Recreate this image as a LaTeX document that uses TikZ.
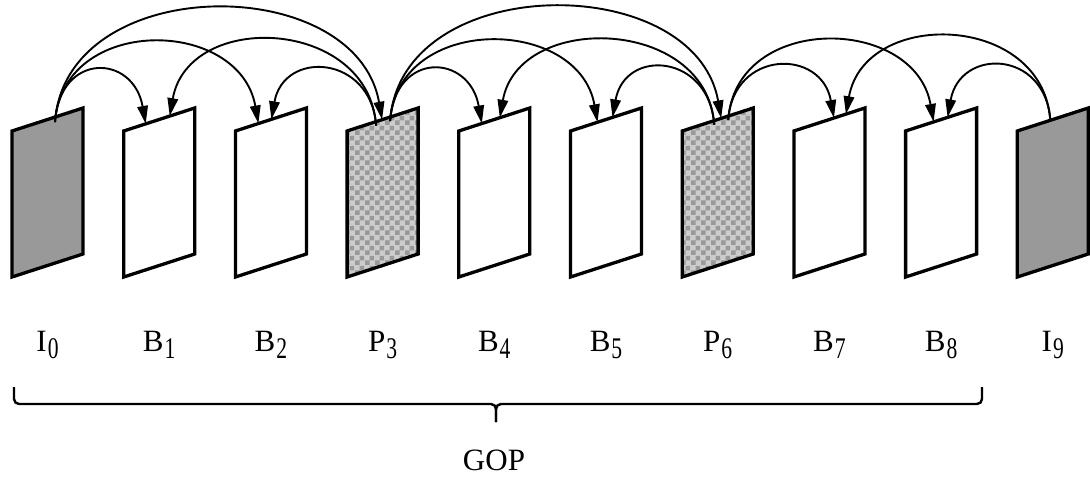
\documentclass[tikz,border=0pt]{standalone}
\usepackage{fontspec}
\setmainfont{Liberation Serif}
\usepackage{graphicx}
\usetikzlibrary{arrows.meta,patterns,calc}

\pgfdeclarepatternformonly{checker}{\pgfpointorigin}{\pgfqpoint{9.6pt}{9.6pt}}{\pgfqpoint{9.6pt}{9.6pt}}{
	\pgfpathrectangle{\pgfpointorigin}{\pgfqpoint{4.8pt}{4.8pt}}
	\pgfpathrectangle{\pgfqpoint{4.8pt}{4.8pt}}{\pgfqpoint{4.8pt}{4.8pt}}
	\pgfusepath{fill}}

\newcommand{\frmlabel}[2]{#1\hspace{1pt}\raisebox{-7pt}{\scalebox{0.72}[1]{\fontsize{30}{30}\selectfont #2}}}

\begin{document}
\begin{tikzpicture}[x=1pt, y=1pt, every node/.style={font=\fontsize{31}{32}\selectfont, inner sep=0pt},
	frame/.style={line width=3.3pt},
	I frame/.style={frame, fill=black!40},
	B frame/.style={frame, fill=white},
	P frame/.style={frame, preaction={fill=black!20}, pattern=checker, pattern color=black!40},
	ref/.style={line width=1.9pt, -{Triangle[length=18pt,width=10.5pt]}},
	fwd/.style={out=86, in=100},
	back/.style={out=94, in=80}]
	\useasboundingbox (0,0) rectangle (1090,477);
	% frames and labels
	\foreach \i/\k in {0/I,1/B,2/B,3/P,4/B,5/B,6/P,7/B,8/B,9/I} {
		\begin{scope}[shift={(12+111.7*\i,200)}, yslant=0.324]
			\draw[\k\space frame] (0,0) -- (0,146) -- (71,146) -- (71,0) -- cycle;
			\coordinate (top\i) at (0,146);
		\end{scope}
		\node[anchor=base] (lab\i) at (47.5+111.7*\i,125) {\frmlabel{\k}{\i}};
	}
	% ends of the references on the top edges
	\coordinate (I0 out) at ($(top0)+(43,8.9)$);
	\coordinate (B1 inI) at ($(top1)+(22,7.1)$);
	\coordinate (B1 inP) at ($(top1)+(46,14.9)$);
	\coordinate (B2 inI) at ($(top2)+(23,7.5)$);
	\coordinate (B2 inP) at ($(top2)+(36,11.7)$);
	\coordinate (P3 in) at ($(top3)+(35,11.3)$);
	\coordinate (P3 back) at ($(top3)+(29,5.4)$);
	\coordinate (P3 fwd) at ($(top3)+(43,9.9)$);
	\coordinate (B4 inP) at ($(top4)+(23,7.5)$);
	\coordinate (B4 inQ) at ($(top4)+(41,13.3)$);
	\coordinate (B5 inP) at ($(top5)+(27,8.7)$);
	\coordinate (B5 inQ) at ($(top5)+(42,13.6)$);
	\coordinate (P6 in) at ($(top6)+(39,12.6)$);
	\coordinate (P6 back) at ($(top6)+(32,6.4)$);
	\coordinate (P6 fwd) at ($(top6)+(46,10.9)$);
	\coordinate (B7 inP) at ($(top7)+(40,13.0)$);
	\coordinate (B7 inI) at ($(top7)+(52,16.8)$);
	\coordinate (B8 inP) at ($(top8)+(28,9.1)$);
	\coordinate (B8 inI) at ($(top8)+(42,13.6)$);
	\coordinate (I9 out) at ($(top9)+(33,10.7)$);
	% references
	\draw[ref] (I0 out) to[fwd, distance=71pt] (B1 inI);
	\draw[ref] (I0 out) to[fwd, distance=108pt] (B2 inI);
	\draw[ref] (I0 out) to[fwd, distance=151pt] (P3 in);
	\draw[ref] (P3 back) to[back, distance=71pt] (B2 inP);
	\draw[ref] (P3 back) to[back, distance=108pt] (B1 inP);
	\draw[ref] (P3 fwd) to[fwd, distance=71pt] (B4 inP);
	\draw[ref] (P3 fwd) to[fwd, distance=108pt] (B5 inP);
	\draw[ref] (P3 fwd) to[fwd, distance=151pt] (P6 in);
	\draw[ref] (P6 back) to[back, distance=71pt] (B5 inQ);
	\draw[ref] (P6 back) to[back, distance=108pt] (B4 inQ);
	\draw[ref] (P6 fwd) to[fwd, distance=71pt] (B7 inP);
	\draw[ref] (P6 fwd) to[fwd, distance=108pt] (B8 inP);
	\draw[ref] (I9 out) to[back, distance=71pt] (B8 inI);
	\draw[ref] (I9 out) to[back, distance=108pt] (B7 inI);
	% GOP brace
	\coordinate (gop l) at (14,90);
	\coordinate (gop r) at (982,90);
	\coordinate (gop m) at (496,55);
	\draw[line width=2.4pt, rounded corners=5pt] (gop l) |- (gop m |- 0,73) -- (gop m);
	\draw[line width=2.4pt, rounded corners=5pt] (gop r) |- (gop m |- 0,73) -- (gop m);
	\node[anchor=base] (gop) at (494,7) {GOP};
\end{tikzpicture}
\end{document}
